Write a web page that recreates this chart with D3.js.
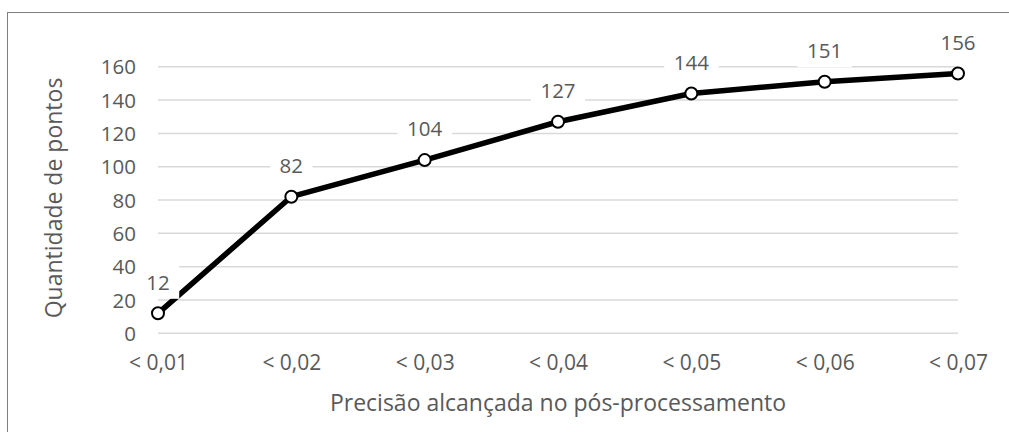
<!DOCTYPE html>
<html>
<head>
<meta charset="utf-8">
<script src="https://cdn.jsdelivr.net/npm/d3@7/dist/d3.min.js"></script>
<style>
  html, body { margin: 0; padding: 0; background: #fff; }
  svg { display: block; }
  text { font-family: "Open Sans", "Noto Sans", sans-serif; fill: #595959; }
</style>
</head>
<body>
<svg id="chart" width="1009" height="432"></svg>
<script>
// Point counts by achieved post-processing precision
const categories = ["< 0,01", "< 0,02", "< 0,03", "< 0,04", "< 0,05", "< 0,06", "< 0,07"];
const pointCounts = [12, 82, 104, 127, 144, 151, 156];
const yTicks = [0, 20, 40, 60, 80, 100, 120, 140, 160];
const xTitle = "Precisão alcançada no pós-processamento";
const yTitle = "Quantidade de pontos";

const svg = d3.select("#chart");
const W = 1009, H = 432;

// Chart frame (extends past the right and bottom edges)
svg.append("rect")
  .attr("x", 7.5).attr("y", 12.5)
  .attr("width", W + 10).attr("height", H + 10)
  .attr("fill", "#fff").attr("stroke", "#7f7f7f").attr("stroke-width", 1);

const x = d3.scalePoint().domain(categories).range([158, 958]).padding(0);
const y = d3.scaleLinear().domain([0, 160]).range([333.3, 66.8]);

// Horizontal gridlines
svg.append("g").selectAll("line").data(yTicks).join("line")
  .attr("x1", 158).attr("x2", 958)
  .attr("y1", d => y(d)).attr("y2", d => y(d))
  .attr("stroke", "#d9d9d9").attr("stroke-width", 1.5);

// Y axis tick labels
const yAxis = d3.axisLeft(y).tickValues(yTicks).tickSize(0).tickPadding(0);
const gy = svg.append("g").attr("transform", "translate(136,0)").call(yAxis);
gy.select(".domain").remove();
gy.selectAll("text")
  .attr("font-size", 20.5).attr("font-family", null).attr("fill", "#595959")
  .attr("dy", "0.35em");

// X axis tick labels
const xAxis = d3.axisBottom(x).tickSize(0).tickPadding(0);
const gx = svg.append("g").attr("transform", "translate(0,363)").call(xAxis);
gx.select(".domain").remove();
gx.selectAll("text")
  .attr("font-size", 21).attr("font-family", null).attr("fill", "#595959")
  .attr("y", 0).attr("dy", "0.35em");

// Axis titles
svg.append("text")
  .attr("x", 558).attr("y", 403).attr("dy", "0.35em")
  .attr("text-anchor", "middle").attr("font-size", 23)
  .text(xTitle);
svg.append("text")
  .attr("transform", "translate(54,198) rotate(-90)")
  .attr("dy", "0.35em")
  .attr("text-anchor", "middle").attr("font-size", 23)
  .text(yTitle);

// Series line
const data = categories.map((c, i) => ({ c, v: pointCounts[i] }));
svg.append("path")
  .datum(data)
  .attr("d", d3.line().x(d => x(d.c)).y(d => y(d.v)))
  .attr("fill", "none").attr("stroke", "#000")
  .attr("stroke-width", 5.5).attr("stroke-linejoin", "round");

// Data labels with white backgrounds
const labels = svg.append("g").selectAll("g").data(data).join("g")
  .attr("transform", d => `translate(${x(d.c)},${y(d.v) - 31})`);
labels.append("rect").attr("fill", "#fff");
labels.append("text")
  .attr("text-anchor", "middle").attr("dy", "0.35em")
  .attr("font-size", 20.5)
  .text(d => d.v);
labels.each(function() {
  const g = d3.select(this);
  const bb = g.select("text").node().getBBox();
  g.select("rect")
    .attr("x", bb.x - 9.5).attr("y", -16.5)
    .attr("width", bb.width + 19).attr("height", 33);
});

// Markers
svg.append("g").selectAll("circle").data(data).join("circle")
  .attr("cx", d => x(d.c)).attr("cy", d => y(d.v))
  .attr("r", 6)
  .attr("fill", "#fff").attr("stroke", "#000").attr("stroke-width", 2);

// Keep labels above markers
labels.raise();
</script>
</body>
</html>
